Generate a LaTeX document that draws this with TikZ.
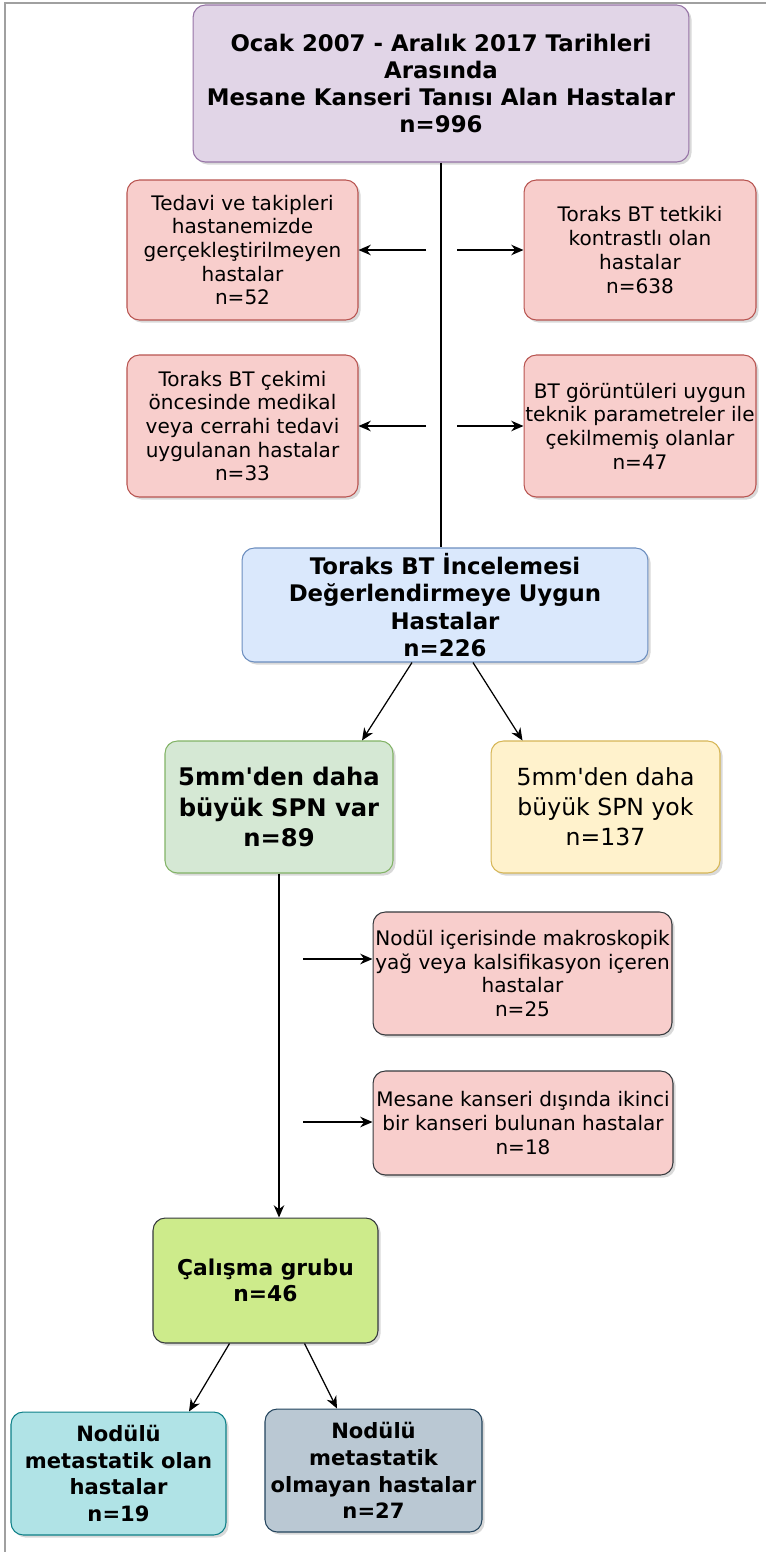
\documentclass[tikz,border=0pt]{standalone}
\usepackage{fontspec}
\setmainfont{DejaVu Sans}
\usetikzlibrary{shadows, calc, positioning, arrows.meta}

\definecolor{purplefill}{HTML}{E1D5E7}
\definecolor{purpleline}{HTML}{9673A6}
\definecolor{redfill}{HTML}{F8CECC}
\definecolor{redline}{HTML}{B85450}
\definecolor{bluefill}{HTML}{DAE8FC}
\definecolor{blueline}{HTML}{6C8EBF}
\definecolor{greenfill}{HTML}{D5E8D4}
\definecolor{greenline}{HTML}{82B366}
\definecolor{yellowfill}{HTML}{FFF2CC}
\definecolor{yellowline}{HTML}{D6B656}
\definecolor{limefill}{HTML}{CDEB8B}
\definecolor{darkline}{HTML}{36393D}
\definecolor{cyanfill}{HTML}{B0E3E6}
\definecolor{cyanline}{HTML}{0E8088}
\definecolor{slatefill}{HTML}{BAC8D3}
\definecolor{slateline}{HTML}{23445D}
\definecolor{framegray}{HTML}{A0A0A0}

\begin{document}
\begin{tikzpicture}[x=0.02cm, y=-0.02cm,
        box/.style={draw, rounded corners=7pt, align=center, inner sep=0.5pt, line width=0.6pt,
            drop shadow={opacity=0.3, shadow xshift=1.5pt, shadow yshift=-1.5pt}},
        smalltext/.style={font=\fontsize{11.4}{13.5}\selectfont},
        boldtext/.style={font=\fontsize{12}{15.3}\selectfont\bfseries},
        redbox/.style={box, fill=redfill, draw=redline, smalltext},
        pinkbox/.style={box, fill=redfill, draw=darkline, smalltext},
        arr/.style={-{Stealth[length=7pt, width=6pt]}, line width=0.7pt}]
            \useasboundingbox (0,0) rectangle (766,1552);

            % Frame
            \draw[framegray, line width=1.2pt] (5,1552) -- (5,3) -- (766,3);

            % Start population
            \node[box, fill=purplefill, draw=purpleline, minimum width=9.92cm, minimum height=3.14cm, font=\fontsize{13}{15.5}\selectfont\bfseries] (allPat) at (441,83.5) {Ocak 2007 - Aralık 2017 Tarihleri\\Arasında\\Mesane Kanseri Tanısı Alan Hastalar\\n=996};

            % Excluded patients
            \node[redbox, minimum width=4.62cm, minimum height=2.8cm] (noFollow) at (242.5,250) {Tedavi ve takipleri\\hastanemizde\\gerçekleştirilmeyen\\hastalar\\n=52};
            \node[redbox, minimum width=4.64cm, minimum height=2.8cm] (contrast) at (640,250) {Toraks BT tetkiki\\kontrastlı olan\\hastalar\\n=638};
            \node[redbox, minimum width=4.62cm, minimum height=2.84cm] (priorTx) at (242.5,426) {Toraks BT çekimi\\öncesinde medikal\\veya cerrahi tedavi\\uygulanan hastalar\\n=33};
            \node[redbox, minimum width=4.64cm, minimum height=2.84cm] (badScan) at (640,426) {BT görüntüleri uygun\\teknik parametreler ile\\çekilmemiş olanlar\\n=47};

            % Eligible patients
            \node[box, fill=bluefill, draw=blueline, minimum width=8.12cm, minimum height=2.28cm, font=\fontsize{13}{15.5}\selectfont\bfseries] (eligible) at (445,605) {Toraks BT İncelemesi\\Değerlendirmeye Uygun\\Hastalar\\n=226};

            % Nodule size
            \node[box, fill=greenfill, draw=greenline, minimum width=4.56cm, minimum height=2.64cm, font=\fontsize{13.8}{17.3}\selectfont\bfseries] (bigNod) at (279,807) {5mm\textquotesingle den daha\\büyük SPN var\\n=89};
            \node[box, fill=yellowfill, draw=yellowline, minimum width=4.58cm, minimum height=2.64cm, font=\fontsize{13.4}{17}\selectfont] (noNod) at (605.5,807) {5mm\textquotesingle den daha\\büyük SPN yok\\n=137};

            % Excluded nodules
            \node[pinkbox, minimum width=5.98cm, minimum height=2.46cm] (fatCalc) at (522.5,973.5) {Nodül içerisinde makroskopik\\yağ veya kalsifikasyon içeren\\hastalar\\n=25};
            \node[pinkbox, minimum width=6cm, minimum height=2.08cm] (secondCa) at (523,1123) {Mesane kanseri dışında ikinci\\bir kanseri bulunan hastalar\\n=18};

            % Study group
            \node[box, fill=limefill, draw=darkline, minimum width=4.5cm, minimum height=2.5cm, font=\fontsize{12.4}{15.1}\selectfont\bfseries] (study) at (265.5,1280.5) {Çalışma grubu\\n=46};
            \node[box, fill=cyanfill, draw=cyanline, minimum width=4.3cm, minimum height=2.46cm, boldtext] (meta) at (118.5,1473.5) {Nodülü\\metastatik olan\\hastalar\\n=19};
            \node[box, fill=slatefill, draw=slateline, minimum width=4.34cm, minimum height=2.46cm, boldtext] (nonMeta) at (373.5,1470.5) {Nodülü\\metastatik\\olmayan hastalar\\n=27};

            % Main trunk
            \draw[line width=0.7pt] (allPat.south) -- (allPat.south |- eligible.north);
            \coordinate (outL1) at (426,250);
            \coordinate (outR1) at (457,250);
            \coordinate (outL2) at (426,426);
            \coordinate (outR2) at (457,426);
            \draw[arr] (outL1) -- (noFollow.east);
            \draw[arr] (outR1) -- (contrast.west);
            \draw[arr] (outL2) -- (priorTx.east);
            \draw[arr] (outR2) -- (badScan.west);

            % Split by nodule size
            \draw[arr] ($(eligible.south)+(-33,0)$) -- ($(bigNod.north)+(83,0)$);
            \draw[arr] ($(eligible.south)+(28,0)$) -- ($(noNod.north)+(-83,0)$);

            % Second trunk
            \draw[arr] (bigNod.south) -- (bigNod.south |- study.north);
            \coordinate (outN1) at (303,959);
            \coordinate (outN2) at (303,1122);
            \draw[arr] (outN1) -- (outN1 -| fatCalc.west);
            \draw[arr] (outN2) -- (outN2 -| secondCa.west);

            % Study group split
            \draw[arr] ($(study.south)+(-36,0)$) -- ($(meta.north)+(70.5,0)$);
            \draw[arr] ($(study.south)+(39,0)$) -- ($(nonMeta.north)+(-36.5,0)$);
        \end{tikzpicture}
\end{document}
